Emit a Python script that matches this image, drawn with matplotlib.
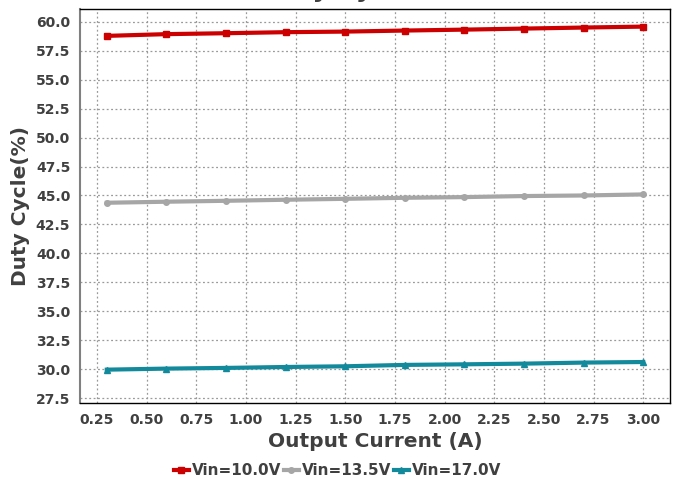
import numpy as np
import matplotlib
matplotlib.use("Agg")
import matplotlib.pyplot as plt

# 数据
iout = [0.3, 0.6, 0.9, 1.2, 1.5, 1.8, 2.1, 2.4, 2.7, 3.0]
duty_10v = [58.79, 58.94, 59.02, 59.11, 59.16, 59.25, 59.33, 59.42, 59.51, 59.59]
duty_135v = [44.37, 44.46, 44.54, 44.63, 44.71, 44.80, 44.86, 44.95, 45.00, 45.09]
duty_17v = [29.95, 30.04, 30.10, 30.18, 30.24, 30.36, 30.41, 30.47, 30.56, 30.61]
labels = ["Vin=10.0V", "Vin=13.5V", "Vin=17.0V"]

txt = "#404040"
plt.rcParams['font.family'] = ['DejaVu Sans']

fig = plt.figure(figsize=(6.75, 4.79), dpi=100)
ax = fig.add_axes([0.1185, 0.1587, 0.8741, 0.8227])

ax.plot(iout, duty_10v, color="#CC0000", lw=3, marker="s", ms=5, label=labels[0])
ax.plot(iout, duty_135v, color="#A6A6A6", lw=3, marker="o", ms=4, label=labels[1])
ax.plot(iout, duty_17v, color="#138A9C", lw=3, marker="^", ms=5, label=labels[2])

ax.set_xticks(np.arange(0.25, 3.01, 0.25))
ax.set_yticks(np.arange(27.5, 60.01, 2.5))
ax.xaxis.set_major_formatter(matplotlib.ticker.FormatStrFormatter("%.2f"))
ax.yaxis.set_major_formatter(matplotlib.ticker.FormatStrFormatter("%.1f"))
ax.set_xlim(0.165, 3.135)
ax.set_ylim(27.07, 61.12)

ax.grid(True, color="#999999", ls=(0, (1.5, 2)), lw=0.9)
ax.tick_params(length=0, pad=7, labelsize=10, labelcolor=txt)
for t in ax.get_xticklabels() + ax.get_yticklabels():
    t.set_fontweight("bold")

for s in ["top", "right", "bottom"]:
    ax.spines[s].set_color("black")
    ax.spines[s].set_linewidth(1.0)
ax.spines["left"].set_color("#808080")
ax.spines["left"].set_linewidth(1.5)

ax.set_xlabel("Output Current (A)", fontsize=14.5, fontweight="bold", color=txt, labelpad=4)
ax.set_ylabel("Duty Cycle(%)", fontsize=14.5, fontweight="bold", color=txt, labelpad=4)

# 标题在图外，只露出下伸部分
fig.text(0.5, 1.007, "Duty Cycle", ha="center", va="baseline",
         fontsize=18, fontweight="bold", color=txt)

leg = fig.legend(loc="center", bbox_to_anchor=(0.5, 0.017), ncol=3, frameon=False,
                 handlelength=1.0, handletextpad=0.2, columnspacing=0.15,
                 prop={"size": 11, "weight": "bold"})
for t in leg.get_texts():
    t.set_color(txt)

fig.savefig("out.png", dpi=100)
